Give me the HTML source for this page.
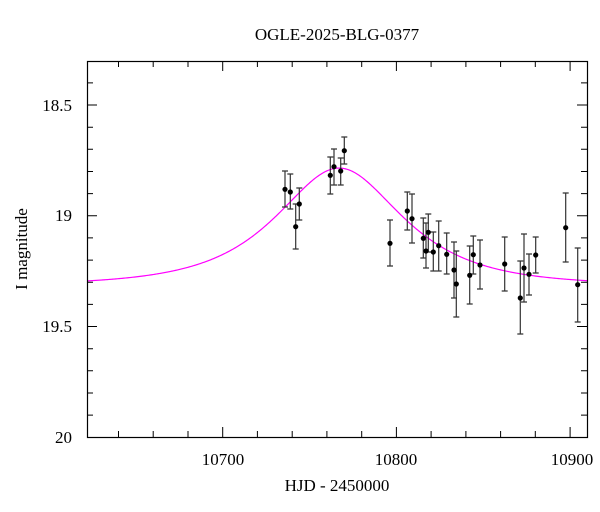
<!DOCTYPE html>
<html><head><meta charset="utf-8"><style>
body{margin:0;background:#fff;}
svg{display:block;font-family:"Liberation Serif",serif;}
</style></head><body>
<svg width="600" height="512" viewBox="0 0 600 512">
<rect x="0" y="0" width="600" height="512" fill="#fff"/>
<text x="337" y="40" font-size="17" text-anchor="middle">OGLE-2025-BLG-0377</text>
<g stroke="#000" stroke-width="1">
<path d="M118.5,437v-6M153.2,437v-6M188,437v-6M222.7,437v-10M257.4,437v-6M292.2,437v-6M326.9,437v-6M361.7,437v-6M396.4,437v-10M431.1,437v-6M465.9,437v-6M500.6,437v-6M535.3,437v-6M570.1,437v-10
M118.5,61v6M153.2,61v6M188,61v6M222.7,61v10M257.4,61v6M292.2,61v6M326.9,61v6M361.7,61v6M396.4,61v10M431.1,61v6M465.9,61v6M500.6,61v6M535.3,61v6M570.1,61v10
M87,82.9h6M87,105h10M87,127.2h6M87,149.3h6M87,171.5h6M87,193.6h6M87,215.8h10M87,237.9h6M87,260.1h6M87,282.2h6M87,304.4h6M87,326.5h10M87,348.7h6M87,370.8h6M87,393h6M87,415.1h6
M587,82.9h-6M587,105h-10M587,127.2h-6M587,149.3h-6M587,171.5h-6M587,193.6h-6M587,215.8h-10M587,237.9h-6M587,260.1h-6M587,282.2h-6M587,304.4h-6M587,326.5h-10M587,348.7h-6M587,370.8h-6M587,393h-6M587,415.1h-6"/>
</g>
<path id="curve" fill="none" stroke="#ff00ff" stroke-width="1.2"/>
<g stroke="#333" stroke-width="1.2">
<path d="M285,171V207M282,171h6M282,207h6
M290.3,174V209M287.3,174h6M287.3,209h6
M295.7,204V249M292.7,204h6M292.7,249h6
M299.3,188V220M296.3,188h6M296.3,220h6
M330.3,157V194M327.3,157h6M327.3,194h6
M334,149V185M331,149h6M331,185h6
M340.7,158V185M337.7,158h6M337.7,185h6
M344.3,137V164M341.3,137h6M341.3,164h6
M390,220V266M387,220h6M387,266h6
M407.3,192V230M404.3,192h6M404.3,230h6
M412,194V243M409,194h6M409,243h6
M423.3,218V258M420.3,218h6M420.3,258h6
M426,223V268M423,223h6M423,268h6
M428.3,214V252M425.3,214h6M425.3,252h6
M433.3,232V271M430.3,232h6M430.3,271h6
M438.7,221V271M435.7,221h6M435.7,271h6
M446.7,233V274M443.7,233h6M443.7,274h6
M454,242V298M451,242h6M451,298h6
M456.3,251V317M453.3,251h6M453.3,317h6
M469.7,246V304M466.7,246h6M466.7,304h6
M473.3,236V274M470.3,236h6M470.3,274h6
M480,240V289M477,240h6M477,289h6
M504.7,237V291M501.7,237h6M501.7,291h6
M520.3,261V334M517.3,261h6M517.3,334h6
M524,234V302M521,234h6M521,302h6
M529,254V295M526,254h6M526,295h6
M535.7,237V273M532.7,237h6M532.7,273h6
M565.7,193V262M562.7,193h6M562.7,262h6
M577.7,248V322M574.7,248h6M574.7,322h6"/>
</g>
<g fill="#000">
<circle cx="285" cy="189.3" r="2.6"/><circle cx="290.3" cy="192" r="2.6"/><circle cx="295.7" cy="226.7" r="2.6"/><circle cx="299.3" cy="204" r="2.6"/>
<circle cx="330.3" cy="175.3" r="2.6"/><circle cx="334" cy="166.7" r="2.6"/><circle cx="340.7" cy="171" r="2.6"/><circle cx="344.3" cy="150.7" r="2.6"/>
<circle cx="390" cy="243.3" r="2.6"/><circle cx="407.3" cy="211" r="2.6"/><circle cx="412" cy="218.7" r="2.6"/><circle cx="423.3" cy="238.3" r="2.6"/>
<circle cx="426" cy="251" r="2.6"/><circle cx="428.3" cy="232.3" r="2.6"/><circle cx="433.3" cy="252" r="2.6"/><circle cx="438.7" cy="245.7" r="2.6"/>
<circle cx="446.7" cy="254.3" r="2.6"/><circle cx="454" cy="270" r="2.6"/><circle cx="456.3" cy="284" r="2.6"/><circle cx="469.7" cy="275.3" r="2.6"/>
<circle cx="473.3" cy="254.7" r="2.6"/><circle cx="480" cy="265" r="2.6"/><circle cx="504.7" cy="264" r="2.6"/><circle cx="520.3" cy="298" r="2.6"/>
<circle cx="524" cy="268" r="2.6"/><circle cx="529" cy="274.3" r="2.6"/><circle cx="535.7" cy="255" r="2.6"/><circle cx="565.7" cy="227.7" r="2.6"/>
<circle cx="577.7" cy="284.7" r="2.6"/>
</g>
<rect x="87.5" y="61.5" width="500" height="376" fill="none" stroke="#000" stroke-width="1.2"/>
<g font-size="17" text-anchor="middle">
<text x="223" y="465">10700</text>
<text x="396" y="465">10800</text>
<text x="572" y="465">10900</text>
<text x="337" y="491">HJD - 2450000</text>
</g>
<g font-size="17" text-anchor="end">
<text x="72" y="111">18.5</text>
<text x="72" y="221">19</text>
<text x="72" y="332">19.5</text>
<text x="72" y="443">20</text>
</g>
<text transform="translate(27,249) rotate(-90)" font-size="17" text-anchor="middle">I magnitude</text>
<script>
function Y(m){return 105+(m-18.5)*221.5;}
var d='';
for(var px=87;px<=587;px+=1){var t=10700+(px-222.7)/1.737;var u0=0.73,tE=52,t0=10767;var u=Math.sqrt(u0*u0+Math.pow((t-t0)/tE,2));var A=(u*u+2)/(u*Math.sqrt(u*u+4));var m=19.315-2.5*Math.log10(A);d+=(px==87?'M':'L')+px+','+Y(m).toFixed(2);}
document.getElementById('curve').setAttribute('d',d);
</script>
</svg>
</body></html>
